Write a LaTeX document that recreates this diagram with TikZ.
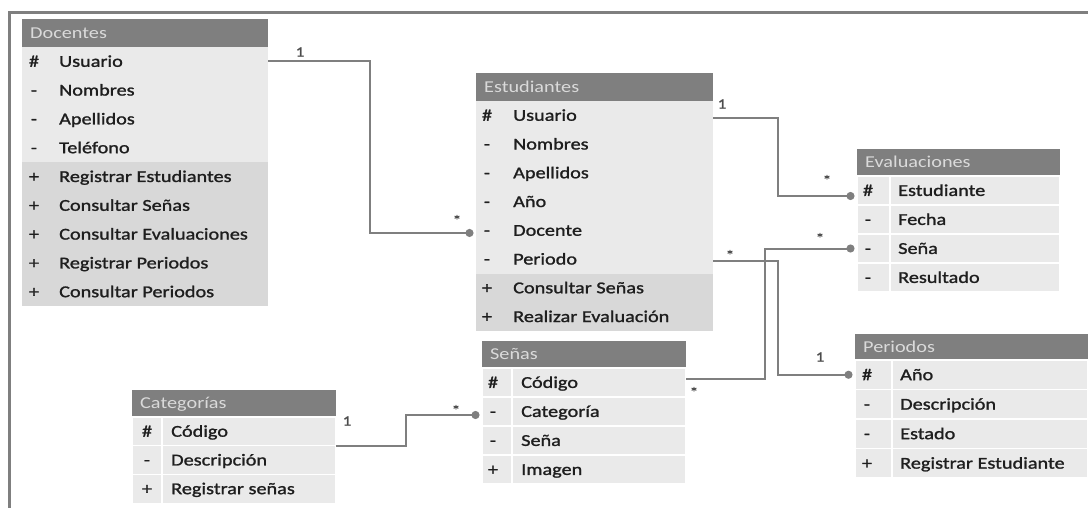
\documentclass[tikz,border=0pt]{standalone}
\usepackage{fontspec}
\setmainfont{Carlito}[FakeStretch=1.22]
\newfontfamily\bodyfont{Carlito}[FakeStretch=1.22, FakeBold=1.3]
\usetikzlibrary{arrows.meta}
\definecolor{hdrfill}{HTML}{7F7F7F}
\definecolor{hdrtext}{HTML}{DADADA}
\definecolor{rowlight}{HTML}{EAEAEA}
\definecolor{rowdark}{HTML}{D8D8D8}
\definecolor{txtc}{HTML}{1E1E1E}
\definecolor{linec}{HTML}{7F7F7F}
\newcommand\symoff{12}
\newcommand\txtoff{37}
\newcommand\urow[8]{%
  \node[#6, minimum width=#4pt, minimum height=#5pt, anchor=north west] (#1) at (#2,#3) {};
  \node[symtxt] at ([xshift=\symoff pt, yshift=-5.4pt]#1.west) {#7};
  \node[rowtxt] at ([xshift=\txtoff pt, yshift=-5.4pt]#1.west) {#8};
}
\newcommand\uhead[6]{%
  \node[hdrbox, minimum width=#4pt, minimum height=#5pt, anchor=north west] (#1) at (#2,#3) {};
  \node[hdrtxt] at ([xshift=8pt, yshift=-5.4pt]#1.west) {#6};
}
\begin{document}
\begin{tikzpicture}[x=1pt,y=-1pt,
  boxbase/.style={inner sep=0pt, outer sep=0pt, draw=none},
  hdrbox/.style={boxbase, fill=hdrfill},
  lightrow/.style={boxbase, fill=rowlight},
  darkrow/.style={boxbase, fill=rowdark},
  gridrow/.style={boxbase, fill=rowlight, draw=white, line width=1.2pt},
  rowtxt/.style={font=\bodyfont\fontsize{16.6}{18}\selectfont, text=txtc, inner sep=0pt, anchor=base west},
  symtxt/.style={font=\bodyfont\fontsize{16.6}{18}\selectfont, text=txtc, inner sep=0pt, anchor=base},
  hdrtxt/.style={font=\fontsize{16.6}{18}\selectfont, text=hdrtext, inner sep=0pt, anchor=base west},
  divider/.style={draw=white, line width=1.2pt},
  conn/.style={draw=linec, line width=2pt, -{Circle[length=8pt,width=8pt]}, shorten >=2.5pt},
  mult/.style={font=\bodyfont\fontsize{14}{16}\selectfont, text=txtc!80, inner sep=0pt},
  frame/.style={draw=linec, line width=2.5pt}
]
\useasboundingbox (0,0) rectangle (1088,508);
\draw[frame] (9.3,508) -- (9.3,12.7) -- (1088,12.7);

% ---------- Docentes ----------
\renewcommand\symoff{12}\renewcommand\txtoff{37}
\uhead{doc}{22}{19}{246}{28}{Docentes}
\urow{doc1}{22}{47}{246}{28.8}{lightrow}{\#}{Usuario}
\urow{doc2}{22}{75.8}{246}{28.8}{lightrow}{-}{Nombres}
\urow{doc3}{22}{104.6}{246}{28.8}{lightrow}{-}{Apellidos}
\urow{doc4}{22}{133.4}{246}{28.8}{lightrow}{-}{Teléfono}
\urow{doc5}{22}{162.2}{246}{28.8}{darkrow}{+}{Registrar Estudiantes}
\urow{doc6}{22}{191}{246}{28.8}{darkrow}{+}{Consultar Señas}
\urow{doc7}{22}{219.8}{246}{28.8}{darkrow}{+}{Consultar Evaluaciones}
\urow{doc8}{22}{248.6}{246}{28.8}{darkrow}{+}{Registrar Periodos}
\urow{doc9}{22}{277.4}{246}{28.8}{darkrow}{+}{Consultar Periodos}

% ---------- Estudiantes ----------
\renewcommand\symoff{11}\renewcommand\txtoff{37}
\uhead{est}{476}{73}{237}{28}{Estudiantes}
\urow{est1}{476}{101}{237}{28.75}{lightrow}{\#}{Usuario}
\urow{est2}{476}{129.75}{237}{28.75}{lightrow}{-}{Nombres}
\urow{est3}{476}{158.5}{237}{28.75}{lightrow}{-}{Apellidos}
\urow{est4}{476}{187.25}{237}{28.75}{lightrow}{-}{Año}
\urow{est5}{476}{216}{237}{28.75}{lightrow}{-}{Docente}
\urow{est6}{476}{244.75}{237}{28.75}{lightrow}{-}{Periodo}
\urow{est7}{476}{273.5}{237}{28.75}{darkrow}{+}{Consultar Señas}
\urow{est8}{476}{302.25}{237}{28.75}{darkrow}{+}{Realizar Evaluación}

% ---------- Evaluaciones ----------
\renewcommand\symoff{11}\renewcommand\txtoff{41}
\uhead{eval}{857}{149}{203}{27}{Evaluaciones}
\urow{eval1}{857}{176}{203}{29}{gridrow}{\#}{Estudiante}
\urow{eval2}{857}{205}{203}{29}{gridrow}{-}{Fecha}
\urow{eval3}{857}{234}{203}{29}{gridrow}{-}{Seña}
\urow{eval4}{857}{263}{203}{29}{gridrow}{-}{Resultado}
\draw[divider] ([xshift=33pt]eval1.north west) -- ([xshift=33pt]eval4.south west);

% ---------- Categorias ----------
\renewcommand\symoff{15}\renewcommand\txtoff{39}
\uhead{cat}{132}{390}{204}{27}{Categorías}
\urow{cat1}{132}{417}{204}{28.7}{gridrow}{\#}{Código}
\urow{cat2}{132}{445.7}{204}{28.7}{gridrow}{-}{Descripción}
\urow{cat3}{132}{474.4}{204}{28.7}{gridrow}{+}{Registrar señas}
\draw[divider] ([xshift=30pt]cat1.north west) -- ([xshift=30pt]cat3.south west);

% ---------- Senas ----------
\renewcommand\symoff{11}\renewcommand\txtoff{39}
\uhead{sen}{482}{341}{204}{27}{Señas}
\urow{sen1}{482}{368}{204}{29}{gridrow}{\#}{Código}
\urow{sen2}{482}{397}{204}{29}{gridrow}{-}{Categoría}
\urow{sen3}{482}{426}{204}{29}{gridrow}{-}{Seña}
\urow{sen4}{482}{455}{204}{29}{gridrow}{+}{Imagen}
\draw[divider] ([xshift=30pt]sen1.north west) -- ([xshift=30pt]sen4.south west);

% ---------- Periodos ----------
\renewcommand\symoff{12}\renewcommand\txtoff{45}
\uhead{per}{855}{334}{233}{26}{Periodos}
\urow{per1}{855}{360}{233}{29.5}{gridrow}{\#}{Año}
\urow{per2}{855}{389.5}{233}{29.5}{gridrow}{-}{Descripción}
\urow{per3}{855}{419}{233}{29.5}{gridrow}{-}{Estado}
\urow{per4}{855}{448.5}{233}{29.5}{gridrow}{+}{Registrar Estudiante}
\draw[divider] ([xshift=37pt]per1.north west) -- ([xshift=37pt]per4.south west);

% ---------- Connectors ----------
\draw[conn] (doc1.east) -- ++(102,0) |- ([yshift=-2.6pt]est5.west);
\draw[conn] ([yshift=-2.6pt]est1.east) -- ++(65,0) |- ([yshift=-5.5pt]eval1.west);
\draw[conn] ([yshift=-2pt]est6.east) -- ++(65,0) |- (per1.west);
\draw[conn] ([yshift=3.5pt]sen1.east) -- ++(79,0) |- (eval3.west);
\draw[conn] (cat1.south east) -- ++(70,0) |- ([yshift=-3.5pt]sen2.west);

% ---------- Multiplicities ----------
\node[mult] (m1) at (300,52) {1};
\node[mult] (m2) at (457,220) {*};
\node[mult] (m3) at (722,104) {1};
\node[mult] (m4) at (827,180) {*};
\node[mult] (m5) at (730,255) {*};
\node[mult] (m6) at (820,357) {1};
\node[mult] (m7) at (820,238) {*};
\node[mult] (m8) at (694,392) {*};
\node[mult] (m9) at (347,421) {1};
\node[mult] (m10) at (456,410) {*};
\end{tikzpicture}
\end{document}
